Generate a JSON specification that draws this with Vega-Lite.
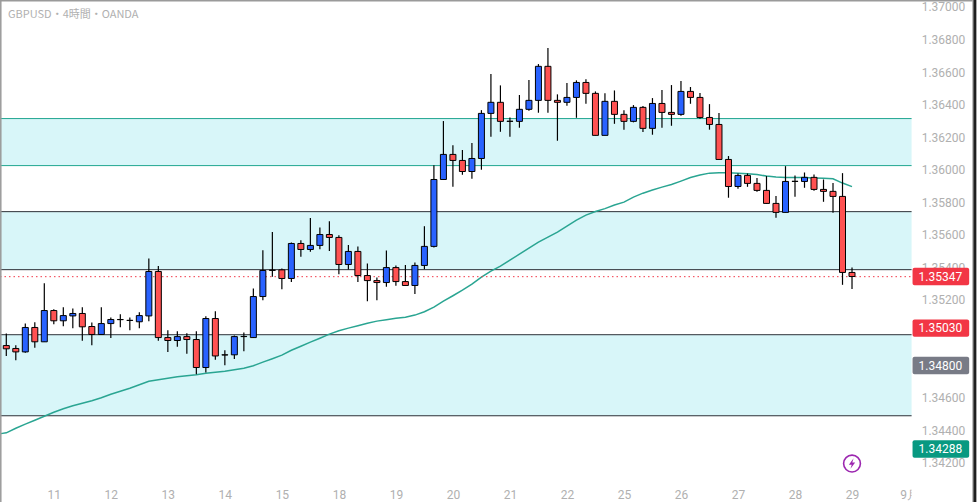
{
"$schema":"https://vega.github.io/schema/vega-lite/v6.json",
"width":921.6,"height":488.3,
"autosize":"none",
"padding":{"left":-5,"top":-5,"right":75,"bottom":34},
"background":"#ffffff",
"view":{"stroke":null},
"config":{"font":"Roboto"},
"datasets":{
"zones":[{"top":1.363172,"bottom":1.360283},{"top":1.357455,"bottom":1.353891},{"top":1.349896,"bottom":1.344917}],
"levels":[{"price":1.363172,"kind":"teal"},{"price":1.360283,"kind":"teal"},{"price":1.357455,"kind":"black"},{"price":1.353891,"kind":"black"},{"price":1.349896,"kind":"black"},{"price":1.344917,"kind":"black"}],
"tags":[{"price":1.35347,"label":"1.35347","kind":"sell"},{"price":1.3503,"label":"1.35030","kind":"sell"},{"price":1.348,"label":"1.34800","kind":"mid"},{"price":1.34288,"label":"1.34288","kind":"buy"}],
"ticks":[{"price":1.342,"label":"1.34200"},{"price":1.344,"label":"1.34400"},{"price":1.346,"label":"1.34600"},{"price":1.352,"label":"1.35200"},{"price":1.354,"label":"1.35400"},{"price":1.356,"label":"1.35600"},{"price":1.358,"label":"1.35800"},{"price":1.36,"label":"1.36000"},{"price":1.362,"label":"1.36200"},{"price":1.364,"label":"1.36400"},{"price":1.366,"label":"1.36600"},{"price":1.368,"label":"1.36800"},{"price":1.37,"label":"1.37000"}],
"candles":[
{"i":0.42,"ema":1.34382},
{"i":1,"o":1.34923,"h":1.34997,"l":1.34859,"c":1.34903,"ema":1.34387,"dir":"down"},
{"i":2,"o":1.34905,"h":1.34925,"l":1.34833,"c":1.34884,"ema":1.34415,"dir":"down"},
{"i":3,"o":1.34884,"h":1.35058,"l":1.34878,"c":1.35034,"ema":1.3444,"dir":"up"},
{"i":4,"o":1.35034,"h":1.35066,"l":1.34909,"c":1.34946,"ema":1.34464,"dir":"down"},
{"i":5,"o":1.34946,"h":1.35306,"l":1.34946,"c":1.35138,"ema":1.34489,"dir":"up"},
{"i":6,"o":1.35138,"h":1.35146,"l":1.35054,"c":1.35075,"ema":1.34513,"dir":"down"},
{"i":7,"o":1.35075,"h":1.35159,"l":1.35042,"c":1.35107,"ema":1.34535,"dir":"up"},
{"i":8,"o":1.35105,"h":1.3515,"l":1.3503,"c":1.3512,"ema":1.34553,"dir":"up"},
{"i":9,"o":1.3512,"h":1.35159,"l":1.34952,"c":1.35038,"ema":1.34569,"dir":"down"},
{"i":10,"o":1.3504,"h":1.35064,"l":1.34925,"c":1.34991,"ema":1.34584,"dir":"down"},
{"i":11,"o":1.34991,"h":1.35159,"l":1.34991,"c":1.35058,"ema":1.34602,"dir":"up"},
{"i":12,"o":1.35058,"h":1.35095,"l":1.3497,"c":1.35083,"ema":1.34624,"dir":"up"},
{"i":13,"o":1.35083,"h":1.35116,"l":1.35036,"c":1.35082,"ema":1.34642,"dir":"down"},
{"i":14,"o":1.35077,"h":1.35095,"l":1.35017,"c":1.35078,"ema":1.34661,"dir":"up"},
{"i":15,"o":1.35069,"h":1.35128,"l":1.3503,"c":1.35107,"ema":1.34682,"dir":"up"},
{"i":16,"o":1.35105,"h":1.35458,"l":1.35073,"c":1.35378,"ema":1.34704,"dir":"up"},
{"i":17,"o":1.35378,"h":1.35411,"l":1.34952,"c":1.34972,"ema":1.34713,"dir":"down"},
{"i":18,"o":1.34972,"h":1.35017,"l":1.34884,"c":1.34954,"ema":1.34722,"dir":"down"},
{"i":19,"o":1.34954,"h":1.35011,"l":1.34915,"c":1.34978,"ema":1.34732,"dir":"up"},
{"i":20,"o":1.34978,"h":1.34999,"l":1.34872,"c":1.3496,"ema":1.34738,"dir":"down"},
{"i":21,"o":1.3496,"h":1.35011,"l":1.34747,"c":1.34788,"ema":1.34744,"dir":"down"},
{"i":22,"o":1.34788,"h":1.35103,"l":1.34757,"c":1.35089,"ema":1.34753,"dir":"up"},
{"i":23,"o":1.35089,"h":1.35134,"l":1.34835,"c":1.34859,"ema":1.34759,"dir":"down"},
{"i":24,"o":1.34866,"h":1.34894,"l":1.34802,"c":1.34865,"ema":1.34765,"dir":"down"},
{"i":25,"o":1.34866,"h":1.34985,"l":1.34841,"c":1.34978,"ema":1.34775,"dir":"up"},
{"i":26,"o":1.34978,"h":1.35003,"l":1.34888,"c":1.34979,"ema":1.34784,"dir":"up"},
{"i":27,"o":1.34972,"h":1.35273,"l":1.3497,"c":1.35224,"ema":1.34799,"dir":"up"},
{"i":28,"o":1.35224,"h":1.35509,"l":1.35202,"c":1.35384,"ema":1.34821,"dir":"up"},
{"i":29,"o":1.35386,"h":1.3562,"l":1.35345,"c":1.35385,"ema":1.34842,"dir":"down"},
{"i":30,"o":1.35388,"h":1.35396,"l":1.35269,"c":1.35335,"ema":1.34864,"dir":"down"},
{"i":31,"o":1.35335,"h":1.35556,"l":1.35314,"c":1.3555,"ema":1.34894,"dir":"up"},
{"i":32,"o":1.3555,"h":1.3557,"l":1.35468,"c":1.35513,"ema":1.34919,"dir":"down"},
{"i":33,"o":1.35513,"h":1.35706,"l":1.35499,"c":1.35538,"ema":1.34944,"dir":"up"},
{"i":34,"o":1.35538,"h":1.35648,"l":1.35515,"c":1.35605,"ema":1.34968,"dir":"up"},
{"i":35,"o":1.35605,"h":1.35687,"l":1.35503,"c":1.35587,"ema":1.34993,"dir":"down"},
{"i":36,"o":1.35587,"h":1.35601,"l":1.35361,"c":1.35421,"ema":1.35014,"dir":"down"},
{"i":37,"o":1.35421,"h":1.3554,"l":1.3539,"c":1.35501,"ema":1.3503,"dir":"up"},
{"i":38,"o":1.35501,"h":1.35531,"l":1.35314,"c":1.35353,"ema":1.35045,"dir":"down"},
{"i":39,"o":1.35353,"h":1.35427,"l":1.35195,"c":1.35322,"ema":1.3506,"dir":"down"},
{"i":40,"o":1.35322,"h":1.35341,"l":1.35202,"c":1.3531,"ema":1.35073,"dir":"down"},
{"i":41,"o":1.3531,"h":1.35507,"l":1.35284,"c":1.35402,"ema":1.35082,"dir":"up"},
{"i":42,"o":1.35402,"h":1.35415,"l":1.3529,"c":1.35316,"ema":1.35091,"dir":"down"},
{"i":43,"o":1.35316,"h":1.35417,"l":1.35292,"c":1.35292,"ema":1.35097,"dir":"down"},
{"i":44,"o":1.35292,"h":1.35433,"l":1.35239,"c":1.35415,"ema":1.3511,"dir":"up"},
{"i":45,"o":1.35415,"h":1.35656,"l":1.35392,"c":1.35532,"ema":1.35131,"dir":"up"},
{"i":46,"o":1.35532,"h":1.36031,"l":1.35526,"c":1.35943,"ema":1.35159,"dir":"up"},
{"i":47,"o":1.35943,"h":1.36302,"l":1.3594,"c":1.36097,"ema":1.35196,"dir":"up"},
{"i":48,"o":1.36097,"h":1.36154,"l":1.35898,"c":1.3606,"ema":1.35229,"dir":"down"},
{"i":49,"o":1.3606,"h":1.36124,"l":1.35972,"c":1.35992,"ema":1.35263,"dir":"down"},
{"i":50,"o":1.35992,"h":1.36167,"l":1.35947,"c":1.36072,"ema":1.353,"dir":"up"},
{"i":51,"o":1.36072,"h":1.36369,"l":1.36003,"c":1.36349,"ema":1.35343,"dir":"up"},
{"i":52,"o":1.36349,"h":1.36591,"l":1.36206,"c":1.36417,"ema":1.3538,"dir":"up"},
{"i":53,"o":1.36417,"h":1.36521,"l":1.36236,"c":1.363,"ema":1.35411,"dir":"down"},
{"i":54,"o":1.363,"h":1.36324,"l":1.36206,"c":1.36301,"ema":1.35448,"dir":"up"},
{"i":55,"o":1.363,"h":1.36462,"l":1.36261,"c":1.36374,"ema":1.35484,"dir":"up"},
{"i":56,"o":1.36374,"h":1.36554,"l":1.36365,"c":1.36429,"ema":1.35521,"dir":"up"},
{"i":57,"o":1.36429,"h":1.36652,"l":1.36353,"c":1.36638,"ema":1.35558,"dir":"up"},
{"i":58,"o":1.36638,"h":1.3675,"l":1.36353,"c":1.36429,"ema":1.35589,"dir":"down"},
{"i":59,"o":1.36429,"h":1.36466,"l":1.36181,"c":1.36417,"ema":1.3562,"dir":"down"},
{"i":60,"o":1.36417,"h":1.36535,"l":1.36396,"c":1.36447,"ema":1.35657,"dir":"up"},
{"i":61,"o":1.36447,"h":1.36552,"l":1.36322,"c":1.36539,"ema":1.35693,"dir":"up"},
{"i":62,"o":1.36539,"h":1.36558,"l":1.36408,"c":1.36472,"ema":1.35724,"dir":"down"},
{"i":63,"o":1.36472,"h":1.36484,"l":1.36214,"c":1.36214,"ema":1.35746,"dir":"down"},
{"i":64,"o":1.36214,"h":1.36472,"l":1.36214,"c":1.36423,"ema":1.35764,"dir":"up"},
{"i":65,"o":1.36423,"h":1.3649,"l":1.36285,"c":1.36343,"ema":1.35786,"dir":"down"},
{"i":66,"o":1.36343,"h":1.36369,"l":1.36249,"c":1.363,"ema":1.35804,"dir":"down"},
{"i":67,"o":1.363,"h":1.364,"l":1.36294,"c":1.36386,"ema":1.35835,"dir":"up"},
{"i":68,"o":1.36386,"h":1.36394,"l":1.36234,"c":1.36257,"ema":1.35859,"dir":"down"},
{"i":69,"o":1.36257,"h":1.36443,"l":1.36218,"c":1.3641,"ema":1.35878,"dir":"up"},
{"i":70,"o":1.3641,"h":1.36492,"l":1.36261,"c":1.36355,"ema":1.35896,"dir":"down"},
{"i":71,"o":1.36355,"h":1.36523,"l":1.36273,"c":1.36343,"ema":1.35912,"dir":"down"},
{"i":72,"o":1.36343,"h":1.36548,"l":1.36335,"c":1.36484,"ema":1.35933,"dir":"up"},
{"i":73,"o":1.36484,"h":1.36511,"l":1.36408,"c":1.36447,"ema":1.35955,"dir":"down"},
{"i":74,"o":1.36447,"h":1.36474,"l":1.36316,"c":1.36324,"ema":1.3597,"dir":"down"},
{"i":75,"o":1.36324,"h":1.36406,"l":1.36249,"c":1.36281,"ema":1.35982,"dir":"down"},
{"i":76,"o":1.36281,"h":1.36351,"l":1.36066,"c":1.36066,"ema":1.35985,"dir":"down"},
{"i":77,"o":1.36066,"h":1.36087,"l":1.35831,"c":1.359,"ema":1.35985,"dir":"down"},
{"i":78,"o":1.359,"h":1.3598,"l":1.35886,"c":1.35968,"ema":1.35982,"dir":"up"},
{"i":79,"o":1.35968,"h":1.3598,"l":1.35898,"c":1.35919,"ema":1.35979,"dir":"down"},
{"i":80,"o":1.35919,"h":1.35952,"l":1.35868,"c":1.35876,"ema":1.35973,"dir":"down"},
{"i":81,"o":1.35876,"h":1.35964,"l":1.35794,"c":1.35796,"ema":1.35964,"dir":"down"},
{"i":82,"o":1.35796,"h":1.35841,"l":1.35708,"c":1.35741,"ema":1.35958,"dir":"down"},
{"i":83,"o":1.35741,"h":1.36025,"l":1.35741,"c":1.35931,"ema":1.35955,"dir":"up"},
{"i":84,"o":1.35931,"h":1.35968,"l":1.35837,"c":1.35932,"ema":1.35955,"dir":"up"},
{"i":85,"o":1.35931,"h":1.35986,"l":1.35892,"c":1.35956,"ema":1.35955,"dir":"up"},
{"i":86,"o":1.35956,"h":1.35974,"l":1.35874,"c":1.35882,"ema":1.35952,"dir":"down"},
{"i":87,"o":1.35882,"h":1.35943,"l":1.35806,"c":1.3587,"ema":1.3595,"dir":"down"},
{"i":88,"o":1.3587,"h":1.35921,"l":1.35739,"c":1.35839,"ema":1.35947,"dir":"down"},
{"i":89,"o":1.35839,"h":1.35982,"l":1.35296,"c":1.35372,"ema":1.35921,"dir":"down"},
{"i":90,"o":1.35372,"h":1.35403,"l":1.35271,"c":1.35347,"ema":1.35899,"dir":"down"}
]
},
"data":{"name":"candles"},
"layer":[
{"data":{"name":"zones"},"mark":{"type":"rect","color":"#d8f6f9"},
 "encoding":{
  "x":{"datum":0.3373,"type":"quantitative","scale":{"domain":[0.3373,96.27],"nice":false,"zero":false},
   "axis":{"title":null,"orient":"bottom","values":[6,12,18,24,30,36,42,48,54,60,66,72,78,84,90,96],
    "labelExpr":"{'6':'11','12':'12','18':'13','24':'14','30':'15','36':'18','42':'19','48':'20','54':'21','60':'22','66':'25','72':'26','78':'27','84':'28','90':'29','96':'9月'}[datum.value]",
    "grid":false,"domain":false,"ticks":false,"labelPadding":6,"labelColor":"#b0b0b0","labelFontSize":12,"labelFont":"Roboto","labelOverlap":false,"labelBound":false,"labelFlush":false}},
  "x2":{"datum":96.27},
  "y":{"field":"top","type":"quantitative","scale":{"domain":[1.341076,1.370455],"nice":false,"zero":false},"axis":null},
  "y2":{"field":"bottom"}
 }},
{"data":{"name":"levels"},"mark":{"type":"rule","strokeWidth":1},
 "encoding":{"x":{"datum":0.3373,"type":"quantitative"},"x2":{"datum":96.27},"y":{"field":"price","type":"quantitative","axis":null},
  "color":{"field":"kind","type":"nominal","scale":{"domain":["up","down","teal","black","sell","mid","buy"],"range":["#2962ff","#ff5252","#1fa690","#2b2f36","#f23645","#787b86","#089981"]},"legend":null}}},
{"mark":{"type":"line","color":"#2aa592","strokeWidth":1.5,"interpolate":"linear"},
 "encoding":{"x":{"field":"i","type":"quantitative"},"y":{"field":"ema","type":"quantitative","axis":null}}},
{"data":{"values":[{"price":1.35346}]},"mark":{"type":"rule","color":"#f23645","strokeWidth":1,"strokeDash":[1.5,3]},
 "encoding":{"x":{"datum":0.3373,"type":"quantitative"},"x2":{"datum":96.27},"y":{"field":"price","type":"quantitative","axis":null}}},
{"transform":[{"filter":"isValid(datum.h)"}],"mark":{"type":"rule","color":"#000000","strokeWidth":1.2},
 "encoding":{"x":{"field":"i","type":"quantitative"},"y":{"field":"l","type":"quantitative","axis":null},"y2":{"field":"h"}}},
{"transform":[{"filter":"isValid(datum.o)"}],"mark":{"type":"bar","size":6,"stroke":"#000000","strokeWidth":1,"orient":"vertical"},
 "encoding":{"x":{"field":"i","type":"quantitative"},"y":{"field":"o","type":"quantitative","axis":null},"y2":{"field":"c"},
  "color":{"field":"dir","type":"nominal","legend":null}}},
{"data":{"values":[{"cover":1}]},"mark":{"type":"rect","color":"#ffffff"},
 "encoding":{"x":{"datum":96.27,"type":"quantitative"},"x2":{"datum":102.6},"y":{"datum":1.34105,"type":"quantitative","axis":null},"y2":{"datum":1.339602}}},
{"data":{"name":"ticks"},"mark":{"type":"text","color":"#b0b0b0","fontSize":12,"font":"Roboto","align":"left","baseline":"middle"},
 "encoding":{"x":{"datum":97.33,"type":"quantitative"},"y":{"field":"price","type":"quantitative","axis":null},"text":{"field":"label"}}},
{"data":{"name":"tags"},"mark":{"type":"bar","orient":"horizontal","size":17.4,"cornerRadius":2},
 "encoding":{"x":{"datum":96.37,"type":"quantitative"},"x2":{"datum":102.33},"y":{"field":"price","type":"quantitative","axis":null},
  "color":{"field":"kind","type":"nominal","legend":null}}},
{"data":{"name":"tags"},"mark":{"type":"text","color":"#ffffff","fontSize":12,"font":"Roboto","align":"center","baseline":"middle"},
 "encoding":{"x":{"datum":99.3,"type":"quantitative"},"y":{"field":"price","type":"quantitative","axis":null},"text":{"field":"label"}}},
{"data":{"values":[{"t":"GBPUSD・4時間・OANDA"}]},"mark":{"type":"text","color":"#b0b0b0","fontSize":11,"font":"Noto Sans CJK JP","align":"left","baseline":"middle"},
 "encoding":{"x":{"datum":1.18,"type":"quantitative"},"y":{"datum":1.36953,"type":"quantitative","axis":null},"text":{"field":"t"}}},
{"data":{"values":[{"i":90,"price":1.34198}]},"mark":{"type":"point","shape":"circle","size":283,"filled":false,"stroke":"#9c27b0","strokeWidth":1.6,"opacity":1},
 "encoding":{"x":{"field":"i","type":"quantitative"},"y":{"field":"price","type":"quantitative","axis":null}}},
{"data":{"values":[{"i":90,"price":1.34198}]},"mark":{"type":"point","shape":"M0.3,-1 L-0.6,0.2 L-0.05,0.2 L-0.3,1 L0.6,-0.2 L0.05,-0.2 Z","size":110,"filled":true,"color":"#9c27b0","opacity":1},
 "encoding":{"x":{"field":"i","type":"quantitative"},"y":{"field":"price","type":"quantitative","axis":null}}},
{"data":{"values":[{"edge":"left"}]},"mark":{"type":"rule","color":"#9a9a9a","strokeWidth":1.5},
 "encoding":{"x":{"datum":0.4215,"type":"quantitative"},"y":{"datum":1.339602,"type":"quantitative","axis":null},"y2":{"datum":1.370455}}},
{"data":{"values":[{"edge":"top"}]},"mark":{"type":"rule","color":"#9a9a9a","strokeWidth":1.5},
 "encoding":{"x":{"datum":0.3373,"type":"quantitative"},"x2":{"datum":102.7},"y":{"datum":1.370405,"type":"quantitative","axis":null}}},
{"data":{"values":[{"edge":"right-inner"}]},"mark":{"type":"rule","color":"#9a9a9a","strokeWidth":1},
 "encoding":{"x":{"datum":102.72,"type":"quantitative"},"y":{"datum":1.339602,"type":"quantitative","axis":null},"y2":{"datum":1.370455}}},
{"data":{"values":[{"edge":"right"}]},"mark":{"type":"rule","color":"#1e1e1e","strokeWidth":3},
 "encoding":{"x":{"datum":102.93,"type":"quantitative"},"y":{"datum":1.339602,"type":"quantitative","axis":null},"y2":{"datum":1.370455}}}
]
}
